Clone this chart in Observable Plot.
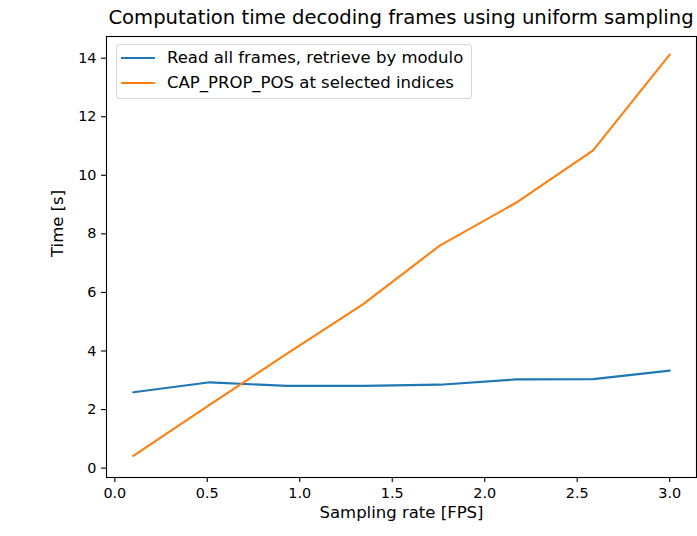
<!DOCTYPE html>
<html>
<head>
<meta charset="utf-8">
<script src="https://cdn.jsdelivr.net/npm/d3@7"></script>
<script src="https://cdn.jsdelivr.net/npm/@observablehq/plot@0.6"></script>
<style>
  body { margin: 0; background: #fff; font-family: "DejaVu Sans", sans-serif; color: #000; }
  #wrap { position: relative; width: 697px; height: 536px; overflow: hidden; }
  #title { position: absolute; left: 106px; top: 8px; width: 590px; text-align: center; font-size: 19.6px; line-height: 1; white-space: nowrap; }
  #chart { position: absolute; left: 0; top: 30px; }
  #legend { position: absolute; left: 116px; top: 44px; width: 356px; height: 55px; box-sizing: border-box;
            border: 1px solid #d6d6d6; border-radius: 3px; background: rgba(255,255,255,0.8); font-size: 16.5px; }
  .row { position: absolute; left: 0; height: 20px; display: flex; align-items: center; white-space: nowrap; }
  .swatch { display: inline-block; width: 34px; height: 2px; margin-left: 4px; margin-right: 12px; }
</style>
</head>
<body>
<div id="wrap">
  <div id="title"></div>
  <div id="chart"></div>
  <div id="legend"></div>
</div>
<script>
const titleText = "Computation time decoding frames using uniform sampling";
const xLabel = "Sampling rate [FPS]";
const yLabel = "Time [s]";

const samplingRates = [0.1, 0.514, 0.929, 1.343, 1.757, 2.171, 2.586, 3.0];
const readAllTimes = [2.59, 2.93, 2.81, 2.81, 2.85, 3.03, 3.04, 3.33];
const capPropTimes = [0.42, 2.17, 3.9, 5.6, 7.6, 9.07, 10.85, 14.12];

const seriesNames = ["Read all frames, retrieve by modulo", "CAP_PROP_POS at selected indices"];
const seriesColors = ["#1f77b4", "#ff7f0e"];
const seriesValues = [readAllTimes, capPropTimes];

const xTicks = [0, 0.5, 1.0, 1.5, 2.0, 2.5, 3.0];
const yTicks = [0, 2, 4, 6, 8, 10, 12, 14];

const data = [];
seriesNames.forEach((name, i) => {
  samplingRates.forEach((x, j) => data.push({series: name, x, y: seriesValues[i][j]}));
});

document.getElementById("title").textContent = titleText;

const chart = Plot.plot({
  width: 697,
  height: 506,
  marginLeft: 106,
  marginRight: 1,
  marginTop: 6,
  marginBottom: 59,
  style: {fontFamily: "DejaVu Sans, sans-serif", fontSize: "14.4px", color: "#000", background: "transparent"},
  x: {domain: [-0.045, 3.145]},
  y: {domain: [-0.32, 14.74]},
  color: {domain: seriesNames, range: seriesColors},
  marks: [
    Plot.axisX({ticks: xTicks, tickFormat: d3.format(".1f"), tickSize: 5, tickPadding: 5, label: null, strokeWidth: 1.1, fontSize: 14.4}),
    Plot.axisY({ticks: yTicks, tickFormat: d3.format("d"), tickSize: 5, tickPadding: 5, label: null, strokeWidth: 1.1, fontSize: 14.4}),
    Plot.line(data, {x: "x", y: "y", stroke: "series", strokeWidth: 2.1, z: "series"}),
    Plot.frame({stroke: "#000", strokeWidth: 1.1}),
    Plot.text([xLabel], {frameAnchor: "bottom", dy: 40, fontSize: 16.5, fill: "#000"}),
    Plot.text([yLabel], {frameAnchor: "left", dx: -49, rotate: -90, fontSize: 16.5, fill: "#000"})
  ]
});
document.getElementById("chart").appendChild(chart);

const legend = document.getElementById("legend");
seriesNames.forEach((name, i) => {
  const row = document.createElement("div");
  row.className = "row";
  row.style.top = (2.7 + i * 25) + "px";
  const sw = document.createElement("span");
  sw.className = "swatch";
  sw.style.background = seriesColors[i];
  const label = document.createElement("span");
  label.textContent = name;
  row.appendChild(sw);
  row.appendChild(label);
  legend.appendChild(row);
});
</script>
</body>
</html>
